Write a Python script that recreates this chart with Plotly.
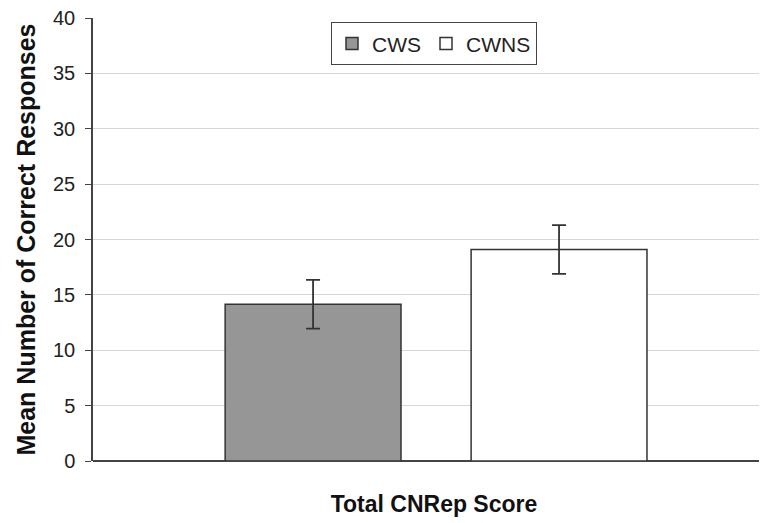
import plotly.graph_objects as go

category = ["Total CNRep Score"]
groups = ["CWS", "CWNS"]
means = [14.15, 19.1]
errors = [2.2, 2.2]
fills = ["#969696", "#ffffff"]

fig = go.Figure()
for g, m, e, c in zip(groups, means, errors, fills):
    fig.add_trace(go.Bar(
        name=g, x=category, y=[m],
        marker=dict(color=c, line=dict(color="#333333", width=1.5)),
        error_y=dict(type="data", array=[e], color="#333333", thickness=1.8, width=7),
    ))

fig.update_layout(
    width=767, height=523,
    paper_bgcolor="white", plot_bgcolor="white",
    margin=dict(l=85, r=0, t=10, b=70, autoexpand=False),
    barmode="group", bargap=0.283, bargroupgap=0.285,
    font=dict(family="Liberation Sans, Arial, sans-serif", color="#222222", size=17),
    showlegend=True,
    legend=dict(
        orientation="h", x=0.5, xanchor="center", y=0.99, yanchor="top",
        bordercolor="#444444", borderwidth=1, bgcolor="white",
        font=dict(size=21, color="#222222"),
        itemwidth=30, traceorder="normal",
    ),
)
fig.update_xaxes(
    range=[-0.5, 0.494], showticklabels=False, ticks="",
    showline=False, showgrid=False, zeroline=False, automargin=True,
    title=dict(text="<b>Total CNRep Score</b>", font=dict(size=23, color="#111111"), standoff=34),
)
fig.update_yaxes(
    range=[0, 40.001], tickvals=[0, 5, 10, 15, 20, 25, 30, 35, 40], automargin=False,
    ticklabeloverflow="allow",
    showgrid=True, gridcolor="#d6d6d6", gridwidth=1.2,
    showline=True, linecolor="#444444", linewidth=1.5,
    ticks="outside", ticklen=6, tickcolor="#444444", tickwidth=1.2,
    ticklabelstandoff=6,
    zeroline=True, zerolinecolor="#444444", zerolinewidth=1.5,
    tickfont=dict(size=20, color="#222222"),
    title=dict(text="<b>Mean Number of Correct Responses</b>", font=dict(size=25, color="#111111"), standoff=10),
)

fig.write_html("out.html")
